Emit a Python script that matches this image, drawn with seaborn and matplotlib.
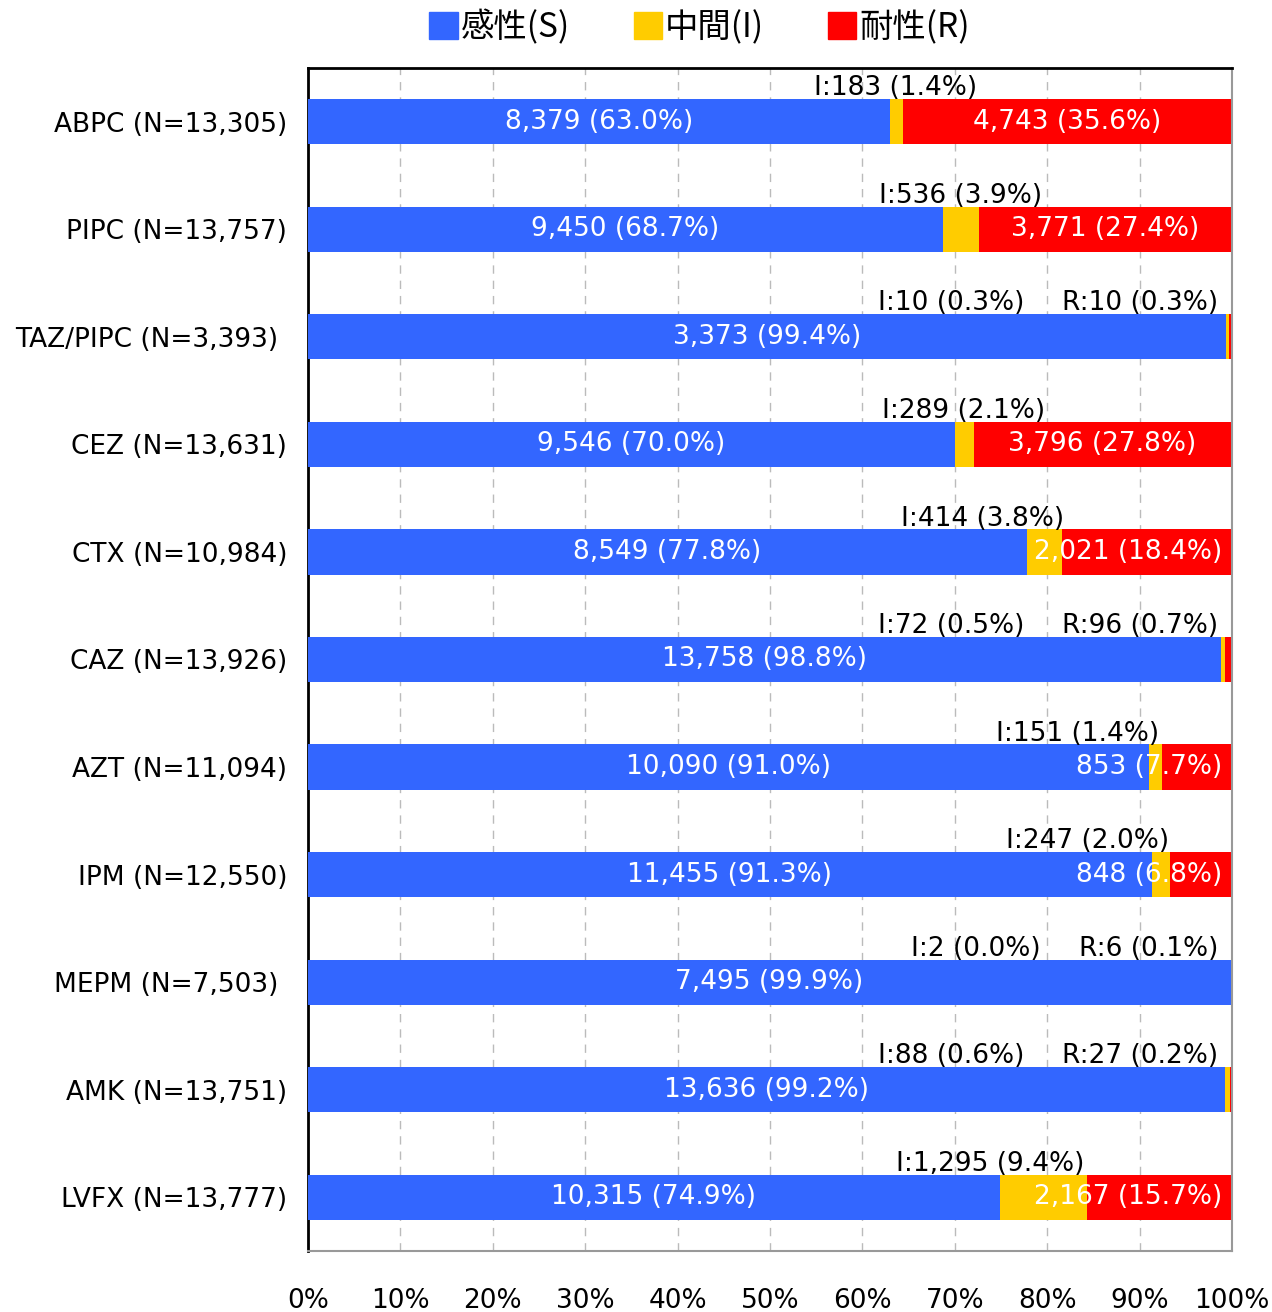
import numpy as np
import pandas as pd
import matplotlib
matplotlib.use("Agg")
import matplotlib.pyplot as plt
from matplotlib.patches import Patch
import seaborn as sns

# data
drugs = ["ABPC", "PIPC", "TAZ/PIPC", "CEZ", "CTX", "CAZ", "AZT", "IPM", "MEPM", "AMK", "LVFX"]
n_total = ["13,305", "13,757", "3,393", "13,631", "10,984", "13,926", "11,094", "12,550", "7,503", "13,751", "13,777"]
s_count = ["8,379", "9,450", "3,373", "9,546", "8,549", "13,758", "10,090", "11,455", "7,495", "13,636", "10,315"]
i_count = ["183", "536", "10", "289", "414", "72", "151", "247", "2", "88", "1,295"]
r_count = ["4,743", "3,771", "10", "3,796", "2,021", "96", "853", "848", "6", "27", "2,167"]
s_pct = [63.0, 68.7, 99.4, 70.0, 77.8, 98.8, 91.0, 91.3, 99.9, 99.2, 74.9]
i_pct = [1.4, 3.9, 0.3, 2.1, 3.8, 0.5, 1.4, 2.0, 0.0, 0.6, 9.4]
r_pct = [35.6, 27.4, 0.3, 27.8, 18.4, 0.7, 7.7, 6.8, 0.1, 0.2, 15.7]

# where the "I:" callouts sit (x, percent)
i_label_x = [63.6, 70.6, 69.6, 71.0, 73.0, 69.6, 83.3, 84.4, 72.3, 69.6, 73.8]

blue = "#3366FF"
yellow = "#FFCC00"
red = "#FF0000"

sns.set_style("white")
plt.rcParams["font.family"] = ["DejaVu Sans", "Noto Sans CJK JP"]
plt.rcParams["text.color"] = "black"
plt.rcParams["xtick.color"] = "black"
plt.rcParams["ytick.color"] = "black"

labels = [f"{d} (N={n})" + (" " if d in ("TAZ/PIPC", "MEPM") else "") for d, n in zip(drugs, n_total)]
df = pd.DataFrame({"label": labels, "S": s_pct, "I": i_pct, "R": r_pct})
df["SI"] = df["S"] + df["I"]
df["SIR"] = 100.0

fig = plt.figure(figsize=(12.72, 13.12), dpi=100)
ax = fig.add_axes([0.2421, 0.0465, 0.7264, 0.9017])

bw = 0.42
sns.barplot(data=df, x="SIR", y="label", orient="h", color=red, width=bw,
            saturation=1, linewidth=0, ax=ax, zorder=2)
sns.barplot(data=df, x="SI", y="label", orient="h", color=yellow, width=bw,
            saturation=1, linewidth=0, ax=ax, zorder=3)
sns.barplot(data=df, x="S", y="label", orient="h", color=blue, width=bw,
            saturation=1, linewidth=0, ax=ax, zorder=4)

fs = 19
for i in range(len(drugs)):
    s, ip, r = s_pct[i], i_pct[i], r_pct[i]
    ax.text(s / 2, i, f"{s_count[i]} ({s:.1f}%)", color="white", ha="center",
            va="center", fontsize=fs, zorder=6)
    ax.text(i_label_x[i], i - 0.31, f"I:{i_count[i]} ({ip:.1f}%)", color="black",
            ha="center", va="center", fontsize=fs, zorder=6)
    if r >= 1:
        if r >= 20:
            ax.text(s + ip + r / 2, i, f"{r_count[i]} ({r:.1f}%)", color="white",
                    ha="center", va="center", fontsize=fs, zorder=6)
        else:
            ax.text(98.9, i, f"{r_count[i]} ({r:.1f}%)", color="white",
                    ha="right", va="center", fontsize=fs, zorder=6)
    else:
        ax.text(98.5, i - 0.31, f"R:{r_count[i]} ({r:.1f}%)", color="black",
                ha="right", va="center", fontsize=fs, zorder=6)

ax.set_xlim(0, 100)
ax.set_ylim(len(drugs) - 0.5, -0.5)
ax.set_xticks(np.arange(0, 101, 10))
ax.set_xticklabels([f"{v}%" for v in range(0, 101, 10)], fontsize=fs)
ax.set_yticks(range(len(drugs)))
ax.set_yticklabels(labels, fontsize=fs, family="DejaVu Sans")
ax.set_yticks(np.arange(-0.5, len(drugs), 1), minor=True)
ax.tick_params(axis="x", length=0, pad=27)
ax.tick_params(axis="y", which="major", length=0, pad=15)
ax.tick_params(axis="y", which="minor", length=7, width=1.5, color="black", direction="out")
ax.set_xlabel("")
ax.set_ylabel("")

ax.grid(axis="x", color="#BBBBBB", linestyle=(0, (6, 5)), linewidth=1, zorder=0)
ax.set_axisbelow(True)

for side in ["left", "top"]:
    ax.spines[side].set_color("black")
    ax.spines[side].set_linewidth(2)
for side in ["right", "bottom"]:
    ax.spines[side].set_color("#999999")
    ax.spines[side].set_linewidth(1.5)

handles = [Patch(color=blue, label="感性(S)"),
           Patch(color=yellow, label="中間(I)"),
           Patch(color=red, label="耐性(R)")]
fig.legend(handles=handles, loc="center", bbox_to_anchor=(0.55, 0.979), ncol=3,
           frameon=False, handlelength=0.85, handleheight=0.85,
           handletextpad=0.1, columnspacing=1.9,
           prop={"family": ["Noto Sans CJK JP", "DejaVu Sans"], "size": 24})

fig.savefig("out.png", dpi=100)
